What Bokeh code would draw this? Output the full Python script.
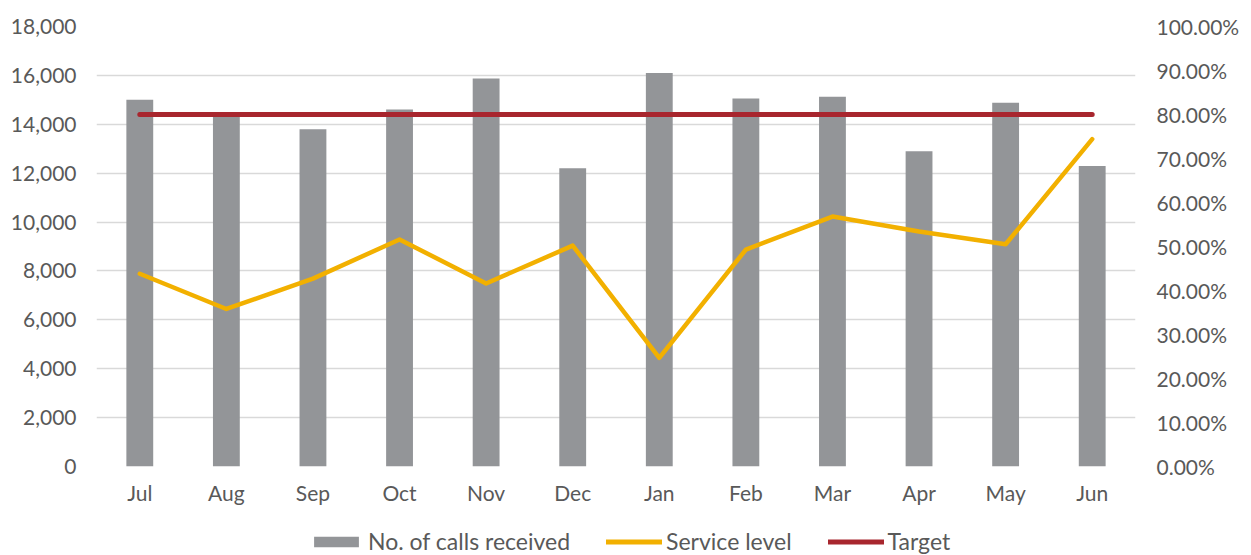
from bokeh.plotting import figure
from bokeh.layouts import column
from bokeh.models import (FactorRange, Range1d, LinearAxis, NumeralTickFormatter,
                          FixedTicker, Legend, LegendItem, ColumnDataSource)
from bokeh.embed import file_html
from bokeh.resources import INLINE

months = ["Jul", "Aug", "Sep", "Oct", "Nov", "Dec", "Jan", "Feb", "Mar", "Apr", "May", "Jun"]
calls = [15000, 14300, 13800, 14600, 15870, 12200, 16100, 15050, 15130, 12900, 14880, 12290]
service_level = [0.438, 0.358, 0.427, 0.516, 0.416, 0.502, 0.247, 0.493, 0.568, 0.534, 0.505, 0.744]
target = [0.80] * 12

FONT = "Lato"
TXT = "#595959"
GRID = "#d9d9d9"
BAR = "#939598"
ORANGE = "#f2b000"
RED = "#a8262e"

src = ColumnDataSource(dict(m=months, calls=calls, sl=service_level, tg=target))

p = figure(width=1251, height=520, x_range=FactorRange(*months), y_range=Range1d(0, 18000),
           output_backend="svg", toolbar_location=None,
           min_border_left=96, min_border_right=116, min_border_top=26, min_border_bottom=54)
p.outline_line_color = None
p.extra_y_ranges = {"pct": Range1d(0, 1)}

p.vbar(x="m", top="calls", width=0.31, source=src, fill_color=BAR, line_color=None)
p.line(x="m", y="sl", source=src, y_range_name="pct", line_color=ORANGE,
       line_width=4.5, line_join="round", line_cap="round")
p.line(x="m", y="tg", source=src, y_range_name="pct", line_color=RED,
       line_width=5, line_cap="round")

p.xgrid.grid_line_color = None
p.ygrid.grid_line_color = GRID
p.ygrid.grid_line_width = 1.5

yl = p.yaxis[0]
yl.ticker = FixedTicker(ticks=list(range(0, 18001, 2000)))
yl.formatter = NumeralTickFormatter(format="0,0")

yr = LinearAxis(y_range_name="pct", ticker=FixedTicker(ticks=[i / 10 for i in range(11)]),
                formatter=NumeralTickFormatter(format="0.00%"))
p.add_layout(yr, "right")

for ax in [p.xaxis[0], yl, yr]:
    ax.axis_line_color = None
    ax.major_tick_line_color = None
    ax.minor_tick_line_color = None
    ax.major_label_text_font = FONT
    ax.major_label_text_font_size = "21px"
    ax.major_label_text_color = TXT
    ax.major_tick_out = 0
    ax.major_tick_in = 0
yl.major_label_standoff = 20
yr.major_label_standoff = 21
p.xaxis[0].major_label_standoff = 13

# legend strip below the chart
lg = figure(width=1251, height=35, x_range=Range1d(0, 1), y_range=Range1d(0, 1),
            output_backend="svg", toolbar_location=None, min_border=0)
lg.outline_line_color = None
lg.axis.visible = False
lg.grid.visible = False
d1 = lg.vbar(x=[-5], bottom=[-6], top=[-5], width=0.3, fill_color=BAR, line_color=None)
d2 = lg.line(x=[-5, -4], y=[-5, -5], line_color=ORANGE, line_width=5, line_cap="round")
d3 = lg.line(x=[-5, -4], y=[-5, -5], line_color=RED, line_width=5, line_cap="round")

legend = Legend(items=[LegendItem(label="No. of calls received", renderers=[d1]),
                       LegendItem(label="Service level", renderers=[d2]),
                       LegendItem(label="Target", renderers=[d3])],
                orientation="horizontal", location=(212, 0),
                label_text_font=FONT, label_text_font_size="23px", label_text_color=TXT,
                glyph_width=56, glyph_height=13, label_standoff=4, spacing=36,
                border_line_color=None, background_fill_alpha=0, padding=0, margin=0)
lg.add_layout(legend, "center")

layout = column(p, lg, spacing=0)
open("out.html", "w").write(file_html(layout, INLINE))
